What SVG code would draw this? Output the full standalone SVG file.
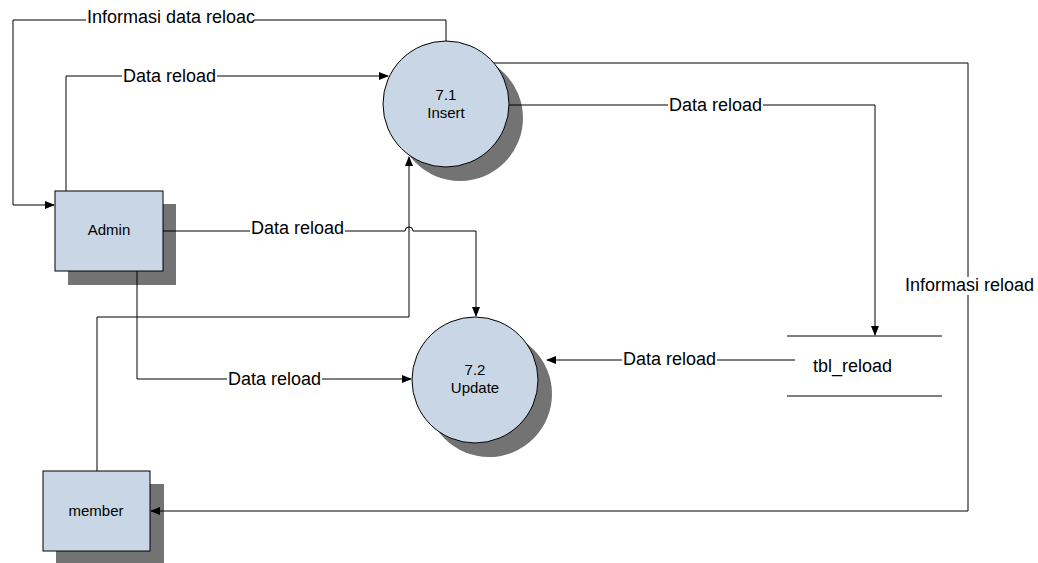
<svg xmlns="http://www.w3.org/2000/svg" width="1038" height="563" viewBox="0 0 1038 563">
<style>
.shadow{fill:#737373;stroke:none}
.shape{fill:#C8D6E5;stroke:#000;stroke-width:1}
.t{font-family:"Liberation Sans",Arial,sans-serif;fill:#000}
.n{font-size:15px;text-anchor:middle}
.lb{font-size:18px}
.c{fill:none;stroke:#000;stroke-width:1}
.bg{fill:#fff}
.store{stroke:#000;stroke-width:1}
</style>
<defs>
<marker id="ah" markerWidth="10" markerHeight="8" refX="9" refY="4" orient="auto" markerUnits="userSpaceOnUse">
<path d="M0,0 L10,4 L0,8 Z" fill="#000"/>
</marker>
</defs>
<rect width="1038" height="563" fill="#fff"/>

<g id="insert">
<circle class="shadow" cx="460" cy="118" r="63"/>
<circle class="shape" cx="446" cy="104" r="63"/>
<text class="t n" x="446" y="100">7.1</text>
<text class="t n" x="446" y="118">Insert</text>
</g>

<g id="update">
<circle class="shadow" cx="489" cy="394" r="63"/>
<circle class="shape" cx="475" cy="380" r="63"/>
<text class="t n" x="475" y="375">7.2</text>
<text class="t n" x="475" y="393">Update</text>
</g>

<g id="admin">
<rect class="shadow" x="68" y="204" width="108" height="81"/>
<rect class="shape" x="55" y="191" width="108" height="80"/>
<text class="t n" x="109" y="235">Admin</text>
</g>

<g id="member">
<rect class="shadow" x="56" y="484" width="108" height="80"/>
<rect class="shape" x="43" y="471" width="107" height="80"/>
<text class="t n" x="96" y="516">member</text>
</g>

<g id="tbl_reload">
<line class="store" x1="787" y1="336" x2="942" y2="336"/>
<line class="store" x1="787" y1="396" x2="942" y2="396"/>
<text class="t" x="813" y="372" font-size="18">tbl_reload</text>
</g>

<g id="connectors">
<!-- Insert -> Admin: Informasi data reloac -->
<polyline class="c" points="446,41 446,20 13,20 13,205 54,205" marker-end="url(#ah)"/>
<!-- Admin -> Insert: Data reload -->
<polyline class="c" points="66,191 66,76 388,76" marker-end="url(#ah)"/>
<!-- Admin -> Update with hop -->
<path class="c" d="M163,231 H405 A4,4 0 0 1 413,231 H476 V316" marker-end="url(#ah)"/>
<!-- Admin -> Update bottom -->
<polyline class="c" points="137,271 137,379 411,379" marker-end="url(#ah)"/>
<!-- member -> Insert -->
<polyline class="c" points="97,471 97,317 409,317 409,157" marker-end="url(#ah)"/>
<!-- Insert -> tbl_reload -->
<polyline class="c" points="509,105 875,105 875,335" marker-end="url(#ah)"/>
<!-- Insert -> member: Informasi reload -->
<polyline class="c" points="494,63 968,63 968,511 151,511" marker-end="url(#ah)"/>
<!-- tbl_reload -> Update -->
<polyline class="c" points="795,360 547,360" marker-end="url(#ah)"/>

<rect class="bg" x="86" y="10" width="168" height="16"/>
<text class="t lb" x="87" y="23">Informasi data reloac</text>
<rect class="bg" x="122" y="67" width="95" height="16"/>
<text class="t lb" x="123" y="82">Data reload</text>
<rect class="bg" x="250" y="220" width="95" height="16"/>
<text class="t lb" x="251" y="234">Data reload</text>
<rect class="bg" x="227" y="371" width="95" height="16"/>
<text class="t lb" x="228" y="385">Data reload</text>
<rect class="bg" x="668" y="98" width="95" height="16"/>
<text class="t lb" x="669" y="111">Data reload</text>
<rect class="bg" x="622" y="351" width="95" height="16"/>
<text class="t lb" x="623" y="365">Data reload</text>
<rect class="bg" x="904" y="277" width="130" height="18"/>
<text class="t lb" x="905" y="291">Informasi reload</text>
</g>
</svg>
